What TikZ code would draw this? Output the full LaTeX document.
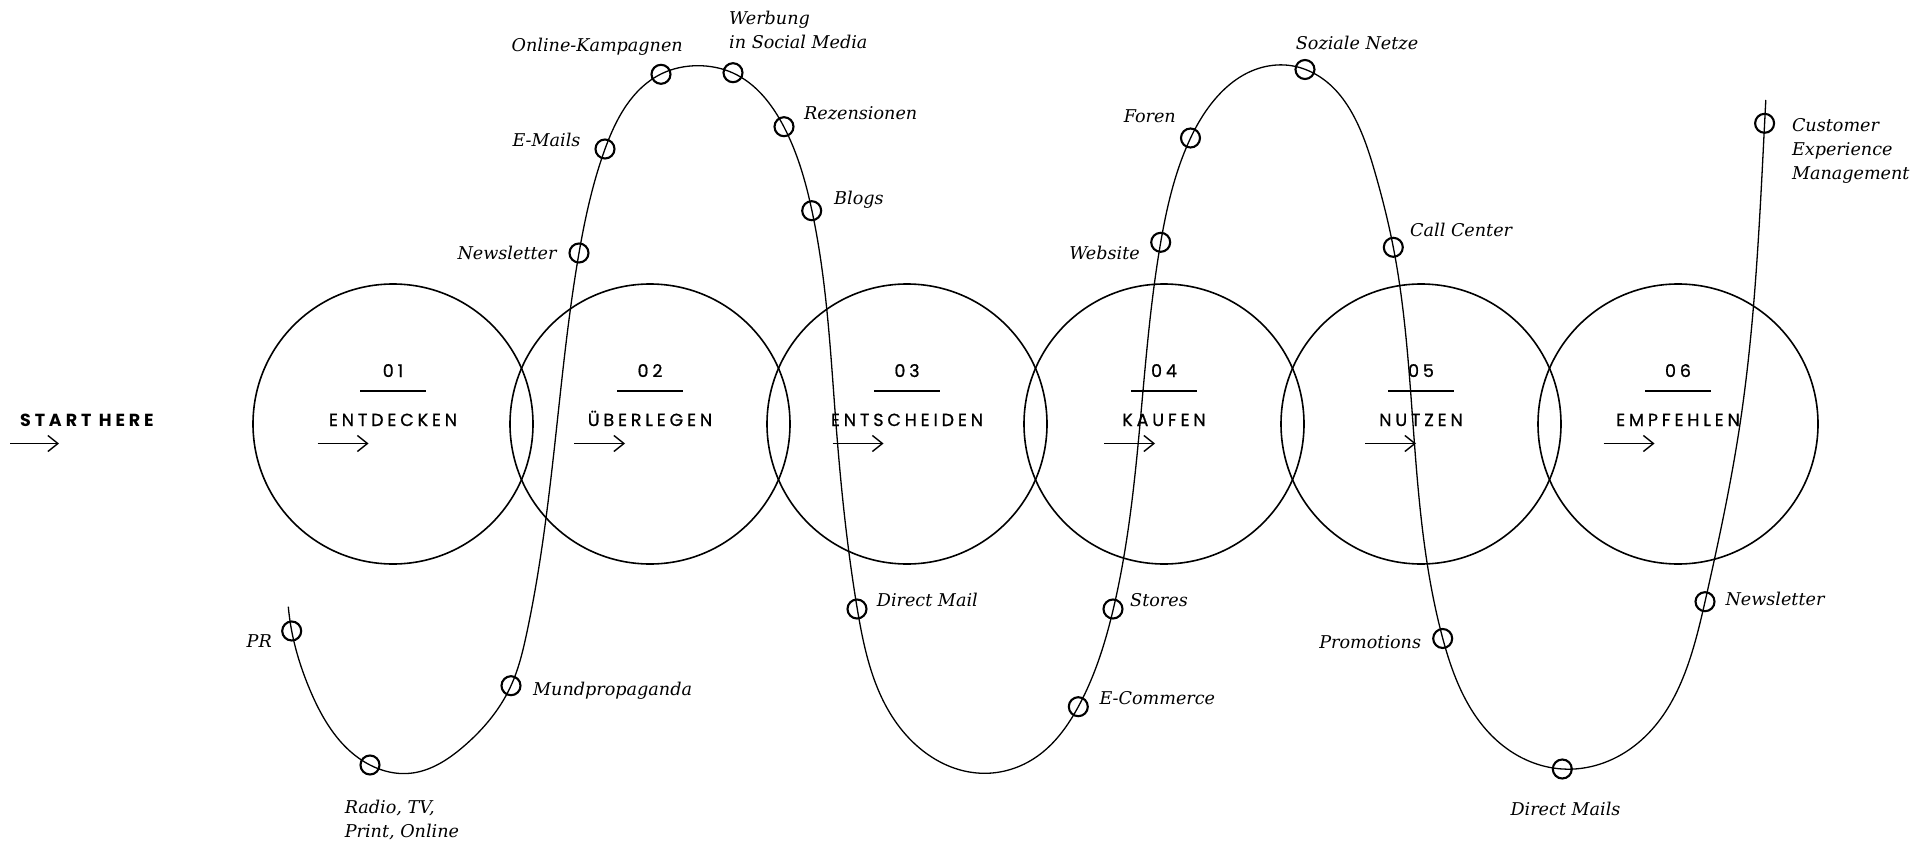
\documentclass[tikz,border=0pt]{standalone}
\usepackage{fontspec}
\setmainfont{DejaVu Serif}
\newfontfamily\capsfont[LetterSpace=22,FakeBold=0.8]{Poppins}
\newfontfamily\capsbold[LetterSpace=22]{Poppins}
\usetikzlibrary{arrows.meta,hobby}
\begin{document}
\begin{tikzpicture}[x=1pt,y=-1pt,
  stage/.style={circle, draw, line width=1.6pt, minimum size=280pt, inner sep=0pt},
  mk/.style={circle, draw, line width=2.1pt, minimum size=19pt, inner sep=0pt},
  path/.style={line width=1.3pt},
  lab/.style={font=\itshape\fontsize{17.6}{24}\selectfont, inner sep=0pt, align=left},
  num/.style={font=\capsfont\fontsize{17.5}{20}\selectfont, inner sep=0pt, anchor=base},
  sname/.style={font=\capsfont\fontsize{17.5}{20}\selectfont, inner sep=0pt, anchor=base},
  bar/.style={line width=2.8pt},
  go/.style={line width=1.4pt, -{Straight Barb[length=10pt,width=16pt,line width=1.4pt]}}
]
\useasboundingbox (0,0) rectangle (1928,845);

% stage circles
\foreach \i/\x in {1/393,2/650,3/907,4/1164,5/1421,6/1678}{
  \node[stage] (c\i) at (\x,424) {};
}

% journey curve
\draw[path, use Hobby shortcut] (288.3,606.7) .. (291.7,631) .. (310,690) .. (370,765) .. (410,773.3)
.. (463.3,746.7) .. (511,685.7) .. (526.7,633.3) .. (557,424)
.. (579,253) .. (605,149) .. (661,74) .. (698,65.7) .. (733,73)
.. (784,127) .. (812,211) .. (836,424) .. (857.3,609)
.. (896.7,723.3) .. (983.3,773.3) .. (1036.7,756.7)
.. (1078.3,706.7) .. (1113.3,609) .. (1140,424)
.. (1160.7,242.3) .. (1190.7,137.7) .. (1276.7,65)
.. (1305,69.3) .. (1373.3,166.7) .. (1393.3,247.3)
.. (1413,424) .. (1442.7,638.3) .. (1500,743.3)
.. (1562.3,769) .. (1633.3,746.7) .. (1705,601.7)
.. (1740,424) .. (1764.6,123.3) .. (1765.8,100);

% markers
\node[mk] (m1) at (291.7,631) {};
\node[mk] (m2) at (370,765) {};
\node[mk] (m3) at (511,685.7) {};
\node[mk] (m4) at (579,253) {};
\node[mk] (m5) at (605,149) {};
\node[mk] (m6) at (661,74.3) {};
\node[mk] (m7) at (733,72.7) {};
\node[mk] (m8) at (784,126.7) {};
\node[mk] (m9) at (811.7,210.7) {};
\node[mk] (m10) at (857,609) {};
\node[mk] (m11) at (1078.3,706.7) {};
\node[mk] (m12) at (1113,609) {};
\node[mk] (m13) at (1160.7,242.3) {};
\node[mk] (m14) at (1190.5,138) {};
\node[mk] (m15) at (1305,69.5) {};
\node[mk] (m16) at (1393.3,247.3) {};
\node[mk] (m17) at (1442.7,638.5) {};
\node[mk] (m18) at (1562.3,769) {};
\node[mk] (m19) at (1705,601.7) {};
\node[mk] (m20) at (1764.6,123.3) {};

% labels
\node[lab, anchor=base east] (l1) at (272,647) {PR};
\node[lab, anchor=base west] (l2) at (344.6,837) {Radio, TV,\\Print, Online};
\node[lab, anchor=base west] (l3) at (533,695) {Mundpropaganda};
\node[lab, anchor=base east] (l4) at (556.7,260) {Newsletter};
\node[lab, anchor=base east] (l5) at (580.7,146.7) {E-Mails};
\node[lab, anchor=base east] (l6) at (683,52) {Online-Kampagnen};
\node[lab, anchor=base west] (l7) at (729,49) {Werbung\\in Social Media};
\node[lab, anchor=base west] (l8) at (804,120) {Rezensionen};
\node[lab, anchor=base west] (l9) at (834,205) {Blogs};
\node[lab, anchor=base west] (l10) at (876.7,606) {Direct Mail};
\node[lab, anchor=base west] (l11) at (1099.3,704) {E-Commerce};
\node[lab, anchor=base west] (l12) at (1130,606) {Stores};
\node[lab, anchor=base east] (l13) at (1140,260) {Website};
\node[lab, anchor=base east] (l14) at (1176,122.3) {Foren};
\node[lab, anchor=base west] (l15) at (1295.7,50) {Soziale Netze};
\node[lab, anchor=base west] (l16) at (1410,236.7) {Call Center};
\node[lab, anchor=base east] (l17) at (1421.3,648) {Promotions};
\node[lab, anchor=base] (l18) at (1565.5,815) {Direct Mails};
\node[lab, anchor=base west] (l19) at (1725.3,605.7) {Newsletter};
\node[lab, anchor=base west] (l20) at (1791.8,180) {Customer\\Experience\\Management};

% start
\node[sname, anchor=base west, font=\capsbold\bfseries\fontsize{17.5}{20}\selectfont] (start) at (20,426) {START HERE};
\draw[go] (10,443.5) -- (59,443.5);

% stage texts
\foreach \i/\x/\t/\a in {1/393/ENTDECKEN/317.5,2/650/ÜBERLEGEN/574,3/907/ENTSCHEIDEN/832.5,4/1164/KAUFEN/1104,5/1421/NUTZEN/1365,6/1678/EMPFEHLEN/1603.5}{
  \node[num] (n\i) at (\x,377) {0\i};
  \draw[bar] (\x-33,391) -- (\x+33,391);
  \node[sname] (s\i) at (\x,426) {\t};
  \draw[go] (\a,443.5) -- (\a+51,443.5);
}
\end{tikzpicture}
\end{document}
